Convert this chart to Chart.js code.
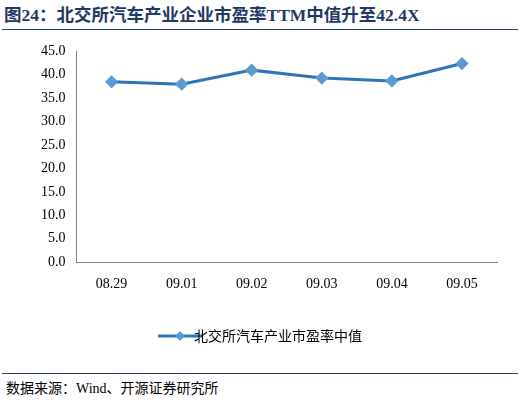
<!DOCTYPE html>
<html><head><meta charset="utf-8">
<script src="https://cdn.jsdelivr.net/npm/chart.js@4"></script>
<style>
body{margin:0;width:522px;height:405px;background:#fff;font-family:"Noto Sans CJK SC","Liberation Serif",serif;}
#title{position:absolute;left:4px;top:1px;font-size:17.5px;font-weight:bold;color:#1F3864;white-space:nowrap;font-family:"Liberation Serif","Noto Sans CJK SC",serif;}
#tl{position:absolute;left:2px;top:29px;width:516px;border-top:1.5px solid #1F3864;}
#box{position:absolute;left:0;top:40px;width:515px;height:325px;}
#fl{position:absolute;left:2px;top:373px;width:516px;border-top:1px solid #1F3864;}
#src{position:absolute;left:6px;top:377px;font-size:14px;color:#000;font-family:"Liberation Serif","Noto Sans CJK SC",serif;}
</style></head><body>
<div id="title">图24：北交所汽车产业企业市盈率TTM中值升至42.4X</div>
<div id="tl"></div>
<div id="box"><canvas id="c"></canvas></div>
<div id="fl"></div>
<div id="src">数据来源：Wind、开源证券研究所</div>
<script>
// data
const dates = ['08.29', '09.01', '09.02', '09.03', '09.04', '09.05'];
const peMedian = [38.5, 38.0, 41.0, 39.3, 38.7, 42.4];
const seriesName = '北交所汽车产业市盈率中值';

// legend marker: line with diamond
const mk = document.createElement('canvas');
mk.width = 44; mk.height = 12;
const m = mk.getContext('2d');
m.strokeStyle = '#2E75B6'; m.lineWidth = 3;
m.beginPath(); m.moveTo(0, 6); m.lineTo(44, 6); m.stroke();
m.fillStyle = '#5B9BD5';
m.beginPath(); m.moveTo(22, 1); m.lineTo(27, 6); m.lineTo(22, 11); m.lineTo(17, 6); m.closePath(); m.fill();

new Chart(document.getElementById('c'), {
    type: 'line',
    data: {
        labels: dates,
        datasets: [{
            label: seriesName,
            data: peMedian,
            borderColor: '#2E75B6',
            backgroundColor: '#5B9BD5',
            pointBackgroundColor: '#5B9BD5',
            pointBorderColor: '#5B9BD5',
            pointStyle: 'rectRot',
            pointRadius: 4.5,
            borderWidth: 3,
            tension: 0
        }]
    },
    options: {
        responsive: true,
        maintainAspectRatio: false,
        animation: false,
        layout: { padding: { left: 38, right: 18, top: 8, bottom: 12 } },
        plugins: {
            legend: {
                position: 'bottom',
                labels: {
                    color: '#000',
                    font: { size: 14, family: '"Noto Sans CJK SC"' },
                    usePointStyle: true,
                    generateLabels: chart => [{
                        text: seriesName, pointStyle: mk, datasetIndex: 0,
                        fontColor: '#000', lineWidth: 0
                    }],
                    padding: 22
                }
            },
            tooltip: { enabled: false }
        },
        scales: {
            x: {
                offset: true,
                grid: { display: false, drawTicks: false },
                border: { color: '#808080' },
                ticks: { color: '#000', font: { size: 14, family: '"Liberation Serif"' }, padding: 14 }
            },
            y: {
                min: 0, max: 45,
                grid: { display: false },
                border: { color: '#808080' },
                ticks: {
                    stepSize: 5,
                    color: '#000',
                    font: { size: 14, family: '"Liberation Serif"' },
                    callback: v => v.toFixed(1)
                }
            }
        }
    }
});
</script>
</body></html>
